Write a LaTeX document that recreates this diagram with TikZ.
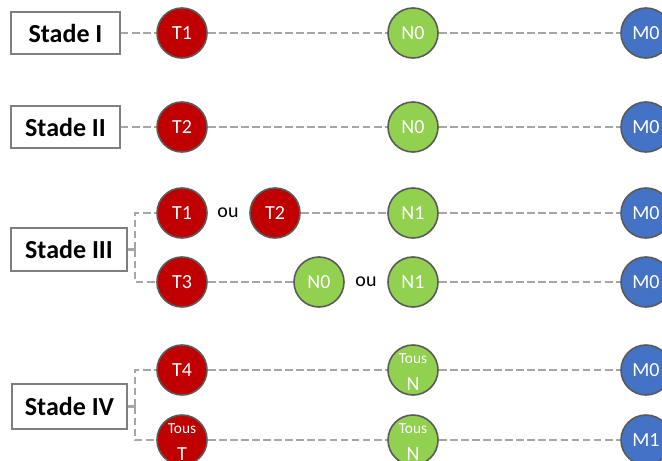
\documentclass[tikz,border=0pt]{standalone}
\usepackage{fontspec}
\setmainfont{Carlito}
\definecolor{tred}{HTML}{C00000}
\definecolor{tgreen}{HTML}{92D050}
\definecolor{tblue}{HTML}{4472C4}
\definecolor{bord}{HTML}{5A5A5A}
\definecolor{boxgray}{HTML}{7F7F7F}
\definecolor{linkgray}{HTML}{A6A6A6}
\begin{document}
\begin{tikzpicture}[x=0.75pt,y=-0.75pt,
  dot/.style={circle, draw=bord, line width=1.2pt, minimum size=37.5pt, inner sep=0pt, text=white, font=\fontsize{15}{16}\selectfont},
  rdot/.style={dot, fill=tred},
  gdot/.style={dot, fill=tgreen},
  bdot/.style={dot, fill=tblue},
  stadebox/.style={draw=boxgray, line width=1.1pt, fill=white, font=\bfseries\fontsize{19.5}{22}\selectfont, inner sep=0pt},
  link/.style={draw=linkgray, line width=2.2pt, dash pattern=on 5.8pt off 2.5pt},
  smalltxt/.style={text=white, inner sep=0pt, font=\fontsize{11.5}{13}\selectfont},
  bigtxt/.style={text=white, inner sep=0pt, anchor=base, font=\fontsize{15}{16}\selectfont},
  outxt/.style={text=black, inner sep=0pt, font=\fontsize{15}{16}\selectfont}]
\useasboundingbox (0,0) rectangle (662,461);

% Stade I
\node[stadebox, minimum width=81.75pt, minimum height=31.5pt] (s1) at (65.5,33) {Stade I};
\node[rdot] (t1a) at (182,33) {T1};
\node[gdot] (n1a) at (413,33) {N0};
\node[bdot] (m1a) at (646,33) {M0};
\draw[link] (s1.east) -- (t1a.west);
\draw[link] (t1a.east) -- (n1a.west);
\draw[link] (n1a.east) -- (m1a.west);

% Stade II
\node[stadebox, minimum width=81.75pt, minimum height=31.5pt] (s2) at (65.5,127) {Stade II};
\node[rdot] (t2a) at (182,127) {T2};
\node[gdot] (n2a) at (413,127) {N0};
\node[bdot] (m2a) at (646,127) {M0};
\draw[link] (s2.east) -- (t2a.west);
\draw[link] (t2a.east) -- (n2a.west);
\draw[link] (n2a.east) -- (m2a.west);

% Stade III
\node[stadebox, minimum width=87pt, minimum height=32.25pt] (s3) at (69,249.5) {Stade III};
\coordinate (b3) at (135,249.5);
\node[rdot] (t3a) at (182,213) {T1};
\node[outxt] (ou1) at (228,213) {ou};
\node[rdot] (t3b) at (275,213) {T2};
\node[gdot] (n3a) at (413,213) {N1};
\node[bdot] (m3a) at (646,213) {M0};
\node[rdot] (t3c) at (182,282) {T3};
\node[gdot] (n3b) at (319,282) {N0};
\node[outxt] (ou2) at (366,282) {ou};
\node[gdot] (n3c) at (413,282) {N1};
\node[bdot] (m3b) at (646,282) {M0};
\draw[link] (s3.east) -- (b3);
\draw[link] (b3) |- (t3a.west);
\draw[link] (b3) |- (t3c.west);
\draw[link] (t3b.east) -- (n3a.west);
\draw[link] (n3a.east) -- (m3a.west);
\draw[link] (t3c.east) -- (n3b.west);
\draw[link] (n3c.east) -- (m3b.west);

% Stade IV
\node[stadebox, minimum width=86.25pt, minimum height=33.75pt] (s4) at (69.5,406.5) {Stade IV};
\coordinate (b4) at (135,406.5);
\node[rdot] (t4a) at (182,370) {T4};
\node[gdot] (n4a) at (413,370) {};
\node[smalltxt] (n4at) at ([yshift=8.25pt]n4a.center) {Tous};
\node[bigtxt] (n4an) at ([yshift=-15pt]n4a.center) {N};
\node[bdot] (m4a) at (646,370) {M0};
\node[rdot] (t4b) at (182,440) {};
\node[smalltxt] (t4bt) at ([yshift=8.25pt]t4b.center) {Tous};
\node[bigtxt] (t4bn) at ([yshift=-15pt]t4b.center) {T};
\node[gdot] (n4b) at (413,440) {};
\node[smalltxt] (n4bt) at ([yshift=8.25pt]n4b.center) {Tous};
\node[bigtxt] (n4bn) at ([yshift=-15pt]n4b.center) {N};
\node[bdot] (m4b) at (646,440) {M1};
\draw[link] (s4.east) -- (b4);
\draw[link] (b4) |- (t4a.west);
\draw[link] (b4) |- (t4b.west);
\draw[link] (t4a.east) -- (n4a.west);
\draw[link] (n4a.east) -- (m4a.west);
\draw[link] (t4b.east) -- (n4b.west);
\draw[link] (n4b.east) -- (m4b.west);
\end{tikzpicture}
\end{document}
